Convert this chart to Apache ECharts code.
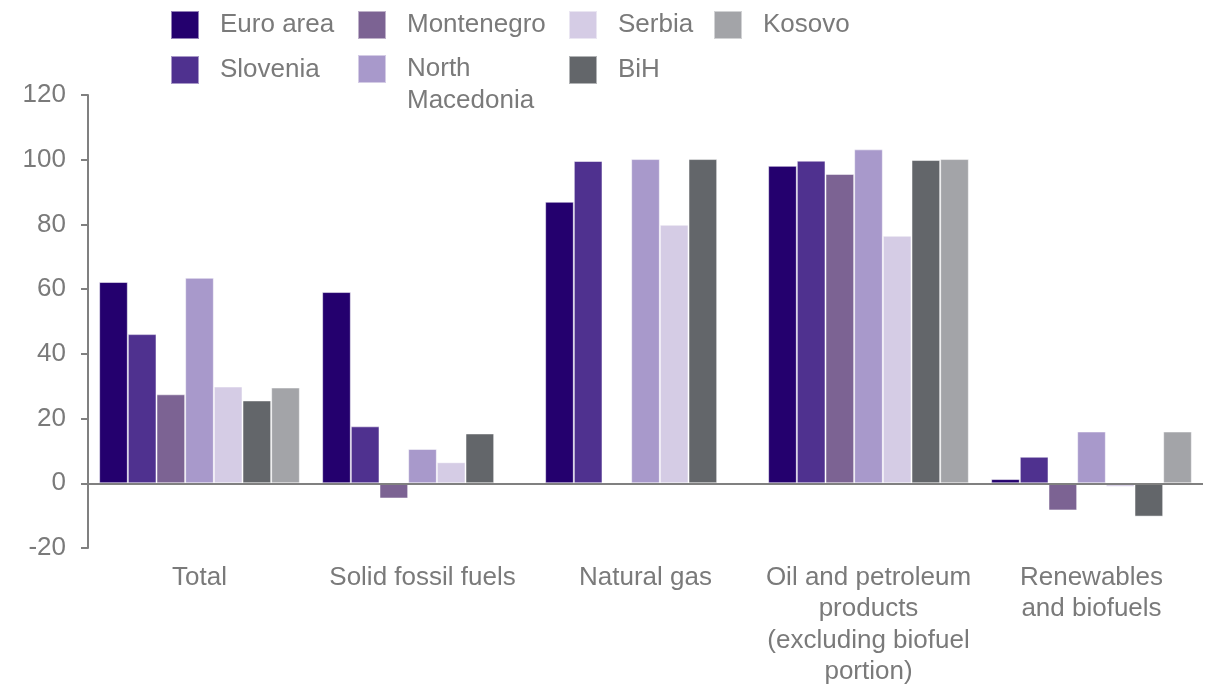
<!DOCTYPE html>
<html>
<head>
<meta charset="utf-8">
<script src="https://cdn.jsdelivr.net/npm/echarts@6/dist/echarts.min.js"></script>
<style>html,body{margin:0;padding:0;background:#fff;}#c{width:1208px;height:684px;}</style>
</head>
<body>
<div id="c"></div>
<script>
const categories = ['Total', 'Solid fossil fuels', 'Natural gas', 'Oil and petroleum\nproducts\n(excluding biofuel\nportion)', 'Renewables\nand biofuels'];
const seriesNames = ['Euro area', 'Slovenia', 'Montenegro', 'North\nMacedonia', 'Serbia', 'BiH', 'Kosovo'];
const euroArea = [62.2, 59.1, 87.0, 98.1, 1.3];
const slovenia = [46.1, 17.6, 99.6, 99.7, 8.2];
const montenegro = [27.5, -4.7, null, 95.6, -8.4];
const northMacedonia = [63.5, 10.6, 100.2, 103.2, 16.0];
const serbia = [29.9, 6.5, 79.9, 76.5, -1.1];
const bih = [25.6, 15.4, 100.2, 99.9, -10.3];
const kosovo = [29.6, null, null, 100.2, 16.0];
const yTicks = [-20, 0, 20, 40, 60, 80, 100, 120];

const colors = ['#24006e', '#4f318f', '#7c6393', '#a899cb', '#d5cce5', '#63666a', '#a3a4a8'];
const values = [euroArea, slovenia, montenegro, northMacedonia, serbia, bih, kosovo];
const textColor = '#7a7a7a';
const font = 'Liberation Sans, Arial, sans-serif';
const fs = 26;

const series = seriesNames.map((name, i) => {
  const s = {
    name: name,
    type: 'bar',
    data: values[i],
    barGap: '0%',
    barCategoryGap: '10%',
    itemStyle: { color: colors[i], borderColor: 'rgba(255,255,255,0.5)', borderWidth: 1 },
    emphasis: { disabled: true }
  };
  if (i === 0) {
    s.markLine = {
      silent: true, symbol: 'none', label: { show: false },
      lineStyle: { color: '#808080', width: 2, type: 'solid' },
      data: [{ yAxis: 0 }]
    };
  }
  return s;
});

function legend(left, top, items, extra) {
  return Object.assign({
    left: left, top: top, orient: 'vertical', padding: 0,
    itemWidth: 28, itemHeight: 28, itemGap: 15,
    icon: 'rect', selectedMode: false,
    data: items,
    textStyle: { color: textColor, fontSize: fs, fontFamily: font, lineHeight: 28, padding: [0, 0, 0, 16] }
  }, extra || {});
}

const chart = echarts.init(document.getElementById('c'));
chart.setOption({
  animation: false,
  color: colors,
  legend: [
    legend(170, 10, [seriesNames[0], seriesNames[1]]),
    legend(357, 10, [seriesNames[2]]),
    legend(357, 21, [seriesNames[3]], {
      formatter: n => ' \n' + n,
      textStyle: { color: textColor, fontSize: fs, fontFamily: font, lineHeight: 32, padding: [0, 0, 0, 16] }
    }),
    legend(568, 10, [seriesNames[4], seriesNames[5]]),
    legend(713, 10, [seriesNames[6]])
  ],
  grid: { left: 88, right: 5, top: 95, bottom: 136, containLabel: false, outerBoundsMode: 'none' },
  xAxis: {
    type: 'category',
    data: categories,
    axisLine: { show: false, onZero: false },
    axisTick: { show: false },
    axisLabel: { color: textColor, fontSize: fs, fontFamily: font, lineHeight: 31.5, margin: 14, interval: 0 }
  },
  yAxis: {
    type: 'value',
    min: yTicks[0], max: yTicks[yTicks.length - 1], interval: 20,
    splitLine: { show: false },
    axisLine: { show: true, lineStyle: { color: '#808080', width: 2 } },
    axisTick: { show: true, length: 7, lineStyle: { color: '#808080', width: 2 } },
    axisLabel: { color: textColor, fontSize: fs, fontFamily: font, margin: 22 }
  },
  series: series
});
</script>
</body>
</html>
